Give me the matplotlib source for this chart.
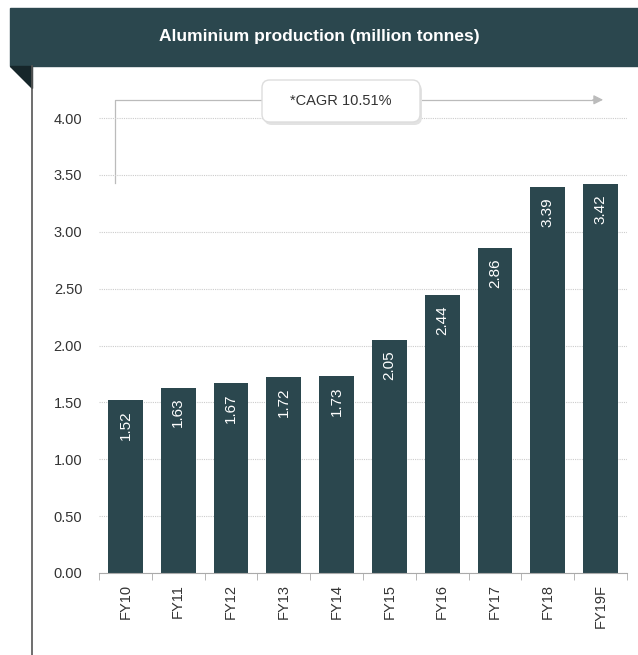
import numpy as np
import matplotlib.pyplot as plt
from matplotlib.patches import Polygon, Rectangle, FancyBboxPatch
from matplotlib.lines import Line2D

# data
years = ['FY10', 'FY11', 'FY12', 'FY13', 'FY14', 'FY15', 'FY16', 'FY17', 'FY18', 'FY19F']
production = [1.52, 1.63, 1.67, 1.72, 1.73, 2.05, 2.44, 2.86, 3.39, 3.42]
title = 'Aluminium production (million tonnes)'
cagr_label = '*CAGR 10.51%'

dark = '#2b474e'

fig = plt.figure(figsize=(6.38, 6.55), dpi=100)
W, H = 638, 655

# title banner
fig.patches.append(Rectangle((10 / W, 1 - 66 / H), 628 / W, 58 / H,
                             transform=fig.transFigure, color=dark, zorder=0))
fig.patches.append(Polygon([(10 / W, 1 - 66 / H), (32 / W, 1 - 66 / H), (32 / W, 1 - 88 / H)],
                           closed=True, transform=fig.transFigure, color='#16262a', zorder=0))
fig.text(0.5, 1 - 37 / H, title, ha='center', va='center', color='white',
         fontsize=12.5, fontweight='bold', family='Liberation Sans')
fig.lines.append(Line2D([32 / W, 32 / W], [0, 1 - 66 / H], transform=fig.transFigure,
                        color='#555555', lw=1.2))

ax = fig.add_axes([99 / W, 1 - 573 / H, 528 / W, (573 - 70) / H])
x = np.arange(len(years))
ax.bar(x, production, width=0.66, color=dark, zorder=2)
for xi, v in zip(x, production):
    ax.text(xi, v - 0.09, f'{v:.2f}', rotation=90, ha='center', va='top',
            color='white', fontsize=11, family='Liberation Sans', zorder=3)

ax.set_xlim(-0.5, len(years) - 0.5)
ax.set_ylim(0, (573 - 70) / 113.75)
ax.set_yticks(np.arange(0, 4.01, 0.5))
ax.set_yticklabels([f'{t:.2f}' for t in np.arange(0, 4.01, 0.5)])
ax.grid(axis='y', color='#cccccc', linestyle=(0, (1, 1)), lw=0.8, zorder=0)
for s in ['top', 'right', 'left']:
    ax.spines[s].set_visible(False)
ax.spines['bottom'].set_color('#aaaaaa')
ax.tick_params(axis='y', length=0, pad=12, labelsize=10.5, labelcolor='#333333')
ax.set_xticks(x)
ax.set_xticklabels(years, rotation=90)
ax.tick_params(axis='x', length=0, pad=8, labelsize=10.5, labelcolor='#333333')
ax.set_xticks(np.arange(-0.5, len(years), 1), minor=True)
ax.tick_params(axis='x', which='minor', length=5, color='#aaaaaa')
for lab in ax.get_xticklabels() + ax.get_yticklabels():
    lab.set_family('Liberation Sans')

# CAGR arrow
ax.plot([-0.2, -0.2, 8.9], [3.43, 4.16, 4.16], color='#bbbbbb', lw=0.9, clip_on=False, zorder=1)
ax.annotate('', xy=(9.1, 4.16), xytext=(8.8, 4.16),
            arrowprops=dict(arrowstyle='-|>', color='#bbbbbb', lw=0.9, mutation_scale=14),
            annotation_clip=False)

# rounded label box with a soft shadow
bx0, by0, bx1, by1 = 262, 80, 420, 122
fig.patches.append(FancyBboxPatch(((bx0 + 2) / W, 1 - (by1 + 3) / H), (bx1 - bx0) / W, (by1 - by0) / H,
                                  boxstyle='round,pad=0,rounding_size=0.012',
                                  transform=fig.transFigure, fc='#e2e2e2', ec='none', zorder=4))
fig.patches.append(FancyBboxPatch((bx0 / W, 1 - by1 / H), (bx1 - bx0) / W, (by1 - by0) / H,
                                  boxstyle='round,pad=0,rounding_size=0.012',
                                  transform=fig.transFigure, fc='white', ec='#dddddd', lw=1, zorder=5))
fig.text((bx0 + bx1) / 2 / W, 1 - (by0 + by1) / 2 / H, cagr_label, ha='center', va='center',
         fontsize=10.5, family='Liberation Sans', color='#333333', zorder=6)

fig.savefig('out.png', dpi=100)
